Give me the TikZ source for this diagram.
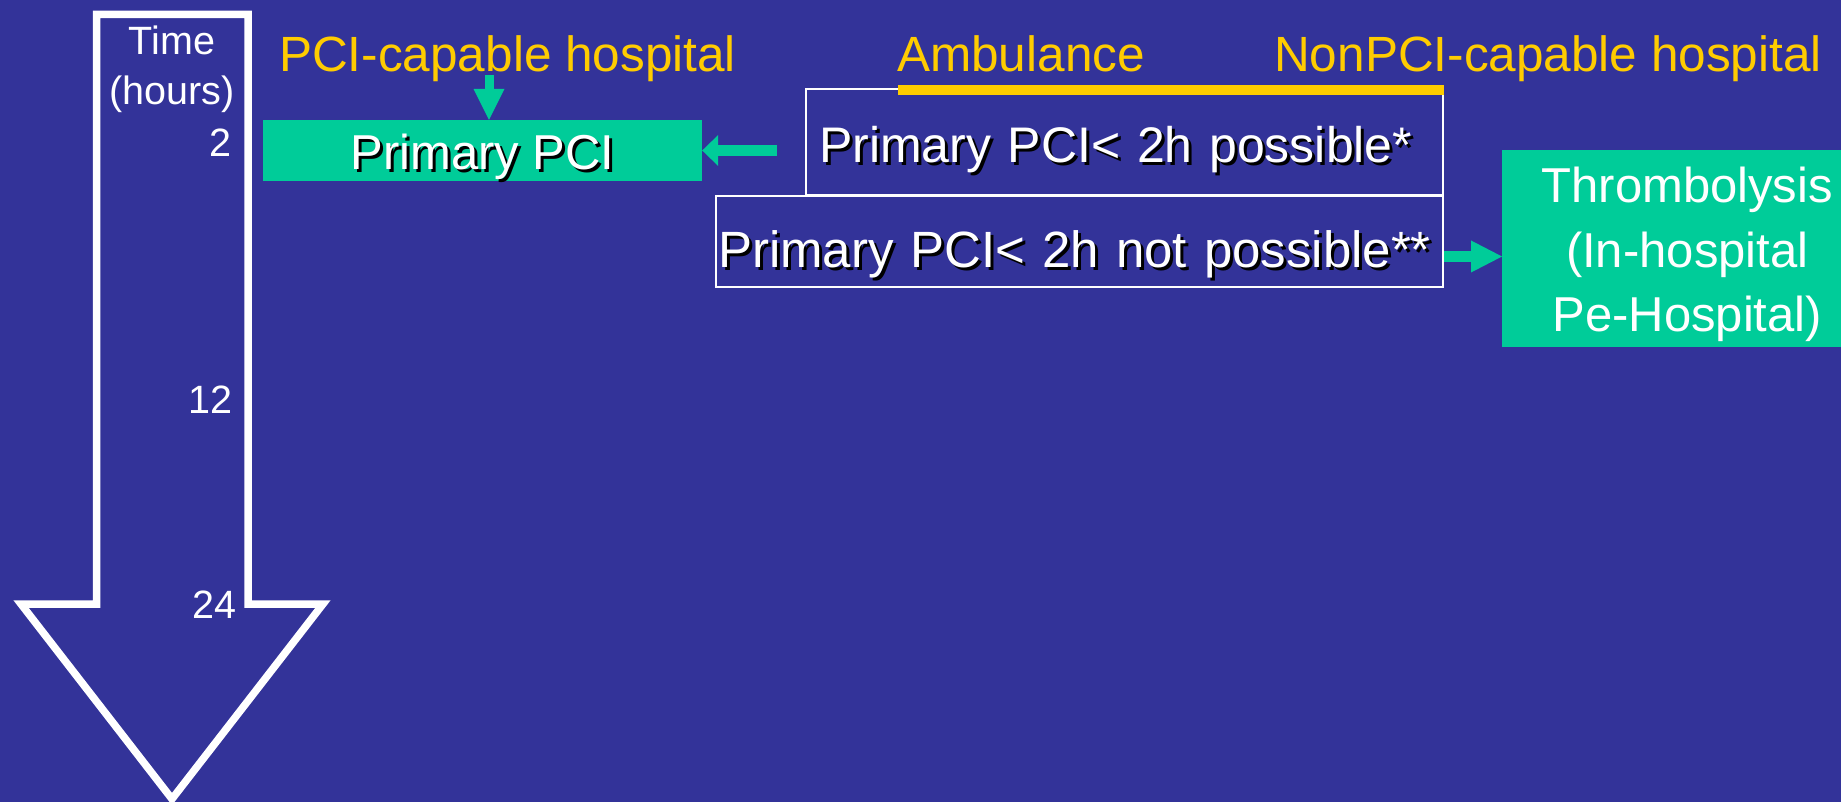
\documentclass[tikz,border=0pt]{standalone}
\usepackage{fontspec}
\setmainfont{Liberation Sans}
\usetikzlibrary{arrows.meta,calc}

\definecolor{slideblue}{RGB}{51, 51, 153}
\definecolor{pcigreen}{RGB}{0, 204, 153}
\definecolor{hdryellow}{RGB}{255, 204, 0}

\newcommand{\shadowtxt}[1]{\makebox[0pt][l]{\kern3pt\raisebox{-3pt}{\textcolor{black}{#1}}}#1}

\begin{document}
\begin{tikzpicture}[x=1pt, y=-1pt,
	tlab/.style={inner sep=0pt, text=white, font=\fontsize{39.5}{44}\selectfont},
	hdr/.style={inner sep=0pt, text=hdryellow, font=\fontsize{49.5}{56}\selectfont},
	wbox/.style={draw=white, line width=2pt, inner ysep=0pt, text=white, align=left, font=\fontsize{50}{56}\selectfont},
	gbox/.style={fill=pcigreen, inner sep=0pt, text=white},
	garrow/.style={draw=pcigreen, line width=#1},
	ybar/.style={draw=hdryellow, line width=10pt}]
	\useasboundingbox (0,0) rectangle (1841,802);
	\fill[slideblue] (0,0) rectangle (1841,802);

	% time axis
	\draw[white, line width=7.5pt, line join=miter] (96.5,14.5) -- (248,14.5) -- (248,604) -- (323,604) -- (172,799) -- (21,604) -- (96.5,604) -- cycle;
	\node[tlab, anchor=base]      (time)  at (172,55)  {Time};
	\node[tlab, anchor=base]      (hours) at (172,105) {(hours)};
	\node[tlab, anchor=base east] (t2)    at (232,157) {2};
	\node[tlab, anchor=base east] (t12)   at (233,413) {12};
	\node[tlab, anchor=base east] (t24)   at (237,618) {24};

	% headers
	\node[hdr, anchor=base west] (hpci) at (279,72)  {PCI-capable hospital};
	\node[hdr, anchor=base west] (hamb) at (897,72)  {Ambulance};
	\node[hdr, anchor=base west] (hnon) at (1274,72) {NonPCI-capable hospital};

	% boxes
	\node[gbox, minimum width=439pt, text height=50pt, text depth=11pt, font=\fontsize{49}{56}\selectfont] (ppci) at (482.5,150.5) {\shadowtxt{Primary PCI}};
	\node[wbox, text width=611pt, inner xsep=13pt, text height=74pt, text depth=32pt] (poss) at (1124.5,142) {\shadowtxt{Primary PCI< 2h possible*}};
	\node[wbox, text width=723pt, inner xsep=2pt, text height=72pt, text depth=19pt, font=\fontsize{51}{56}\selectfont] (notposs) at (1079.5,241.5) {\shadowtxt{Primary PCI< 2h not possible**}};
	\node[gbox, anchor=west, text width=370pt, minimum height=197pt, align=center, font=\fontsize{49}{64.5}\selectfont] (lysis) at (1502,248.5) {\rule{0pt}{48pt}Thrombolysis\\(In-hospital\\Pe-Hospital)};

	\coordinate (y0) at (898,90);
	\draw[ybar] (y0) -- (y0 -| poss.east);

	% arrows
	\coordinate (d0) at (489,75);
	\draw[garrow=9pt, -{Triangle[width=31pt, length=31pt, line width=0pt]}] (d0) -- (d0 |- ppci.north);
	\coordinate (l0) at (777,150.5);
	\draw[garrow=10.5pt, -{Triangle[width=31pt, length=16pt, line width=0pt]}] (l0) -- (l0 -| ppci.east);
	\coordinate (r0) at ($(notposs.east)+(0,15)$);
	\draw[garrow=11.5pt, -{Triangle[width=32pt, length=31pt, line width=0pt]}] (r0) -- (r0 -| lysis.west);
\end{tikzpicture}
\end{document}
